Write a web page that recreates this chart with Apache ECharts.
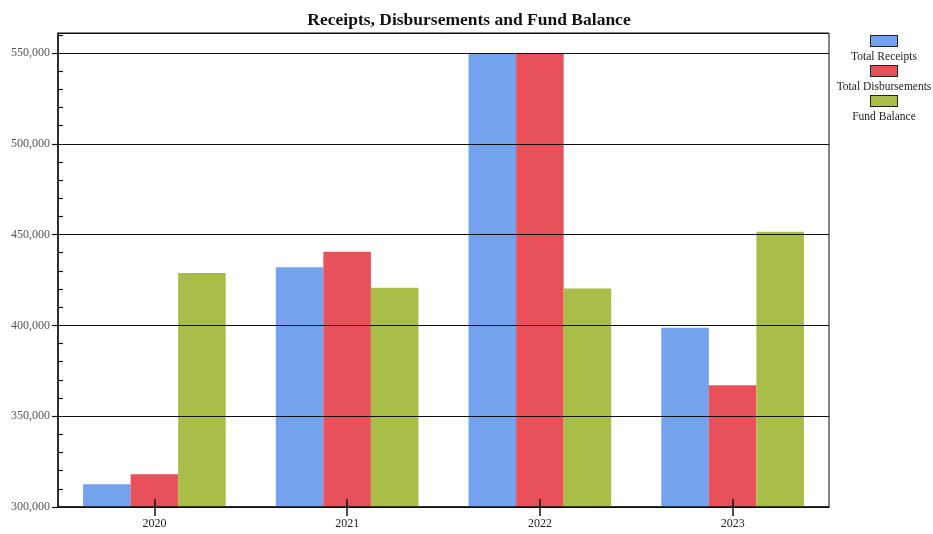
<!DOCTYPE html>
<html>
<head>
<meta charset="utf-8">
<script src="https://cdn.jsdelivr.net/npm/echarts@6/dist/echarts.min.js"></script>
<style>html,body{margin:0;padding:0;background:#fff}#c{width:933px;height:534px}</style>
</head>
<body>
<div id="c"></div>
<script>
const categories = ['2020', '2021', '2022', '2023'];
const seriesNames = ['Total Receipts', 'Total Disbursements', 'Fund Balance'];
const totalReceipts = [312500, 432000, 550000, 398700];
const totalDisbursements = [318000, 440500, 550000, 367000];
const fundBalance = [428800, 420700, 420300, 451500];
const yTicks = [300000, 350000, 400000, 450000, 500000, 550000];
const colors = ['#74A3EE', '#E8505A', '#A8BE48'];

const yMin = 300000, yMax = 561000, yInterval = 50000;
const serif = '"Liberation Serif", "DejaVu Serif", serif';

const rich = {
  name: { fontFamily: serif, fontSize: 11.5, color: '#222', align: 'center', width: 96, lineHeight: 14 }
};
seriesNames.forEach((n, i) => {
  rich['b' + i] = {
    backgroundColor: colors[i], borderColor: '#222', borderWidth: 1,
    width: 26, height: 10, align: 'center', lineHeight: 17
  };
});

const chart = echarts.init(document.getElementById('c'));
chart.setOption({
  animation: false,
  backgroundColor: '#fff',
  title: {
    text: 'Receipts, Disbursements and Fund Balance',
    left: 464, top: 6, textAlign: 'center',
    textStyle: { fontFamily: serif, fontSize: 17.5, fontWeight: 'bold', color: '#111' }
  },
  legend: {
    orient: 'vertical', right: 1, top: 35, padding: 0,
    itemWidth: 0, itemHeight: 0, itemGap: 2.5,
    selectedMode: false,
    data: seriesNames,
    formatter: function (name) {
      const i = seriesNames.indexOf(name);
      return '{b' + i + '|}\n{name|' + name + '}';
    },
    textStyle: { rich: rich }
  },
  grid: {
    left: 58, right: 104, top: 33, bottom: 27,
    show: true, borderColor: '#111', borderWidth: 1, containLabel: false
  },
  xAxis: [{
    type: 'category', data: categories, z: 5,
    axisLine: { lineStyle: { color: '#111', width: 1.5 } },
    axisTick: { show: true, alignWithLabel: true, length: 9, lineStyle: { color: '#111', width: 1.5 } },
    axisLabel: { fontFamily: serif, fontSize: 12, color: '#222', margin: 11 }
  }, {
    type: 'category', data: categories, position: 'bottom', z: 5,
    axisLine: { show: false },
    axisTick: { show: true, inside: true, alignWithLabel: true, length: 8, lineStyle: { color: '#111', width: 1.5 } },
    axisLabel: { show: false }
  }],
  yAxis: [{
    type: 'value', min: yMin, max: yMax, interval: yInterval, z: 5,
    axisLine: { show: true, lineStyle: { color: '#111', width: 1.5 } },
    axisTick: { show: true, length: 6, lineStyle: { color: '#111', width: 1.2 } },
    axisLabel: {
      fontFamily: serif, fontSize: 12, color: '#555', margin: 8, showMaxLabel: false,
      formatter: function (v) { return yTicks.indexOf(v) >= 0 ? v.toLocaleString('en-US') : ''; }
    },
    splitLine: { show: true, lineStyle: { color: '#111', width: 1.2 } }
  }, {
    type: 'value', min: yMin, max: yMax, interval: yInterval, position: 'left', z: 5,
    axisLine: { show: false },
    axisTick: { show: false, inside: true },
    minorTick: { show: true, splitNumber: 5, length: 5, lineStyle: { color: '#111', width: 1.2 } },
    axisLabel: { show: false },
    splitLine: { show: false }
  }],
  series: [
    { name: seriesNames[0], type: 'bar', data: totalReceipts, itemStyle: { color: colors[0] }, barGap: '0%', barCategoryGap: '26%', z: 1 },
    { name: seriesNames[1], type: 'bar', data: totalDisbursements, itemStyle: { color: colors[1] }, barGap: '0%', barCategoryGap: '26%', z: 1 },
    { name: seriesNames[2], type: 'bar', data: fundBalance, itemStyle: { color: colors[2] }, barGap: '0%', barCategoryGap: '26%', z: 1 }
  ]
});
</script>
</body>
</html>
